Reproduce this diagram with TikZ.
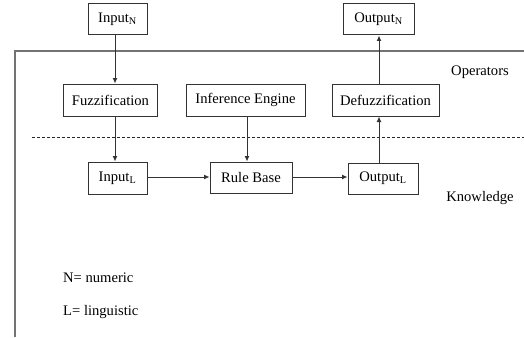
\documentclass[tikz,border=0pt]{standalone}
\usepackage{fontspec}
\setmainfont{Liberation Serif}
\usetikzlibrary{arrows.meta}
\begin{document}
\begin{tikzpicture}[x=1pt,y=-1pt,
  box/.style={draw=black!80,line width=1pt,rectangle,inner sep=0pt,font=\fontsize{14.6}{16}\selectfont},
  lbl/.style={inner sep=0pt,font=\fontsize{14.6}{16}\selectfont},
  arr/.style={draw=black!80,line width=1pt,-{Latex[length=5.5pt,width=5pt]}}]
\useasboundingbox (0,0) rectangle (524,337);
\fill[white] (0,0) rectangle (524,337);
% frame
\draw[black!55,line width=1.6pt] (15,337) -- (15,51) -- (524,51);
\draw[black!85,line width=0.9pt,dash pattern=on 3pt off 2pt] (32,137) -- (524,137);
% nodes
\node[box,minimum width=59,minimum height=31] (inN) at (117.5,19.5) {Input\textsubscript{N}};
\node[box,minimum width=71,minimum height=31] (outN) at (378.5,19.5) {Output\textsubscript{N}};
\node[box,minimum width=94,minimum height=32] (fuzz) at (110.5,100) {Fuzzification};
\node[box,minimum width=119,minimum height=32] (inf) at (245.5,100) {Inference Engine};
\node[box,minimum width=107,minimum height=32] (defuzz) at (385.5,100) {Defuzzification};
\node[box,minimum width=59,minimum height=32] (inL) at (117.5,178) {Input\textsubscript{L}};
\node[box,minimum width=82,minimum height=31] (rule) at (251,177.5) {Rule Base};
\node[box,minimum width=70,minimum height=31] (outL) at (383,178.5) {Output\textsubscript{L}};
\node[lbl] (ops) at (480,72) {Operators};
\node[lbl] (know) at (480,198) {Knowledge};
\node[lbl,anchor=west] (legN) at (63,278) {N= numeric};
\node[lbl,anchor=west] (legL) at (63,312) {L= linguistic};
% connector columns
\coordinate (c1) at (115,0);
\coordinate (c2) at (247,0);
\coordinate (c3) at (379,0);
\coordinate (r1) at (0,177);
\draw[arr] (inN.south -| c1) -- (fuzz.north -| c1);
\draw[arr] (fuzz.south -| c1) -- (inL.north -| c1);
\draw[arr] (inf.south -| c2) -- (rule.north -| c2);
\draw[arr] (inL.east |- r1) -- (rule.west |- r1);
\draw[arr] (rule.east |- r1) -- (outL.west |- r1);
\draw[arr] (outL.north -| c3) -- (defuzz.south -| c3);
\draw[arr] (defuzz.north -| c3) -- (outN.south -| c3);
\end{tikzpicture}
\end{document}
